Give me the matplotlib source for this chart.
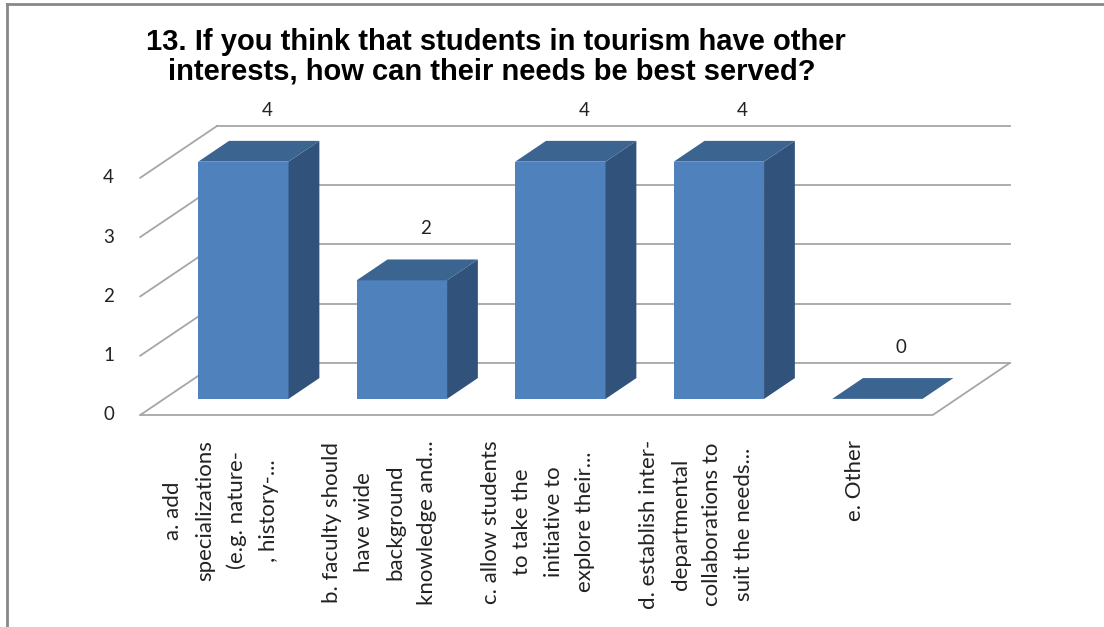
import matplotlib
matplotlib.use("Agg")
import matplotlib.pyplot as plt
from matplotlib.patches import Polygon

# data
categories = ["a. add\nspecializations\n(e.g. nature-\n, history-...",
              "b. faculty should\nhave wide\nbackground\nknowledge and...",
              "c. allow students\nto take the\ninitiative to\nexplore their...",
              "d. establish inter-\ndepartmental\ncollaborations to\nsuit the needs...",
              "e. Other"]
values = [4, 2, 4, 4, 0]
yticks = [0, 1, 2, 3, 4]
title_lines = ["13. If you think that students in tourism have other",
               "interests, how can their needs be best served?"]

# fake 3d geometry (depth offset in data units)
DX, DY = 0.486, 0.877
T0, T1 = 0.31, 0.71
W = 0.57
front_c = "#4F81BD"
top_c = "#3C6491"
side_c = "#31527A"
grid_c = "#A6A6A6"

fig = plt.figure(figsize=(11.04, 6.27), dpi=100)
ax = fig.add_axes([0, 0, 1, 1])
ax.set_xlim(-219.5 / 158.5, (1104 - 219.5) / 158.5)
ax.set_ylim((415 - 627) / 59.3, 415 / 59.3)
ax.axis("off")

n = len(values)
x0, x1 = -0.5, n - 0.5

# walls / floor
for v in yticks:
    ax.plot([x0, x0 + DX], [v, v + DY], color=grid_c, lw=1.3, zorder=1)
    ax.plot([x0 + DX, x1 + DX], [v + DY, v + DY], color=grid_c, lw=1.3, zorder=1)
    ax.text(x0 - 0.2, v, str(v), ha="center", va="center", fontsize=13.5,
            family="Lato", color="#222222")
ax.plot([x0, x1, x1 + DX], [0, 0, DY], color=grid_c, lw=1.3, zorder=1)

# bars
for i, v in enumerate(values):
    xl = i - W / 2 + T0 * DX
    xr = xl + W
    b = T0 * DY
    d = (T1 - T0) * DX
    e = (T1 - T0) * DY
    if v > 0:
        ax.bar(xl, v, width=W, bottom=b, align="edge", color=front_c,
               edgecolor="none", zorder=3)
        ax.add_patch(Polygon([(xr, b), (xr, b + v), (xr + d, b + v + e), (xr + d, b + e)],
                             closed=True, fc=side_c, ec="none", zorder=3))
    ax.add_patch(Polygon([(xl, b + v), (xr, b + v), (xr + d, b + v + e), (xl + d, b + v + e)],
                         closed=True, fc=top_c, ec="none", zorder=3))
    ax.text(i + 0.3, v + T1 * DY + 0.52, str(v), ha="center",
            va="center", fontsize=13.5, family="Lato", color="#222222")

# category labels
for i, lab in enumerate(categories):
    ax.text(i + 0.01, (415 - 440) / 59.3, lab, rotation=90, ha="center", va="top",
            multialignment="center", fontsize=16, family="Lato",
            linespacing=1.72, color="#222222")

# title, one line at a time (baselines at 49 and 77 px)
fig.text(496 / 1104, 1 - 50 / 627, title_lines[0], ha="center", va="baseline",
         fontsize=21, fontweight="bold", family="Liberation Sans")
fig.text(492 / 1104, 1 - 79 / 627, title_lines[1], ha="center", va="baseline",
         fontsize=21, fontweight="bold", family="Liberation Sans")

# chart border (left and top visible)
fig.add_artist(plt.Line2D([7 / 1104, 7 / 1104], [0, 1 - 4 / 627], transform=fig.transFigure,
                          color="#888888", lw=2))
fig.add_artist(plt.Line2D([7 / 1104, 1], [1 - 4 / 627, 1 - 4 / 627], transform=fig.transFigure,
                          color="#888888", lw=2))

fig.savefig("out.png", dpi=100)
